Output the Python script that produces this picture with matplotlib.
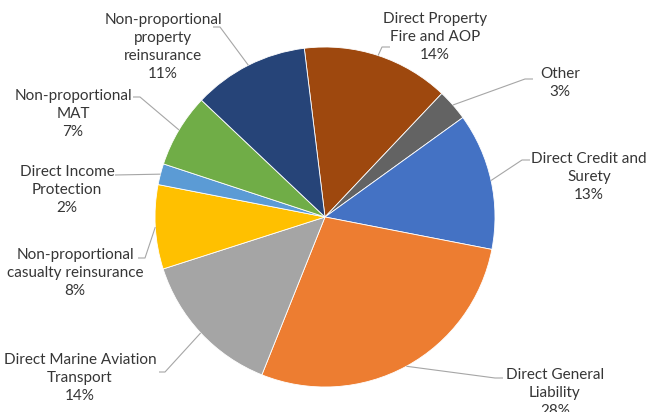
import numpy as np
import matplotlib
matplotlib.use("Agg")
import matplotlib.pyplot as plt

# premium split by line of business, clockwise from the top
lines = ["Direct Property\nFire and AOP", "Other", "Direct Credit and\nSurety",
         "Direct General\nLiability", "Direct Marine Aviation\nTransport",
         "Non-proportional\ncasualty reinsurance", "Direct Income\nProtection",
         "Non-proportional\nMAT", "Non-proportional\nproperty\nreinsurance"]
shares = [14, 3, 13, 28, 14, 8, 2, 7, 11]
colors = ["#9E480E", "#636363", "#4472C4", "#ED7D31", "#A5A5A5",
          "#FFC000", "#5B9BD5", "#70AD47", "#264478"]

W, H = 646, 412
cx, cy, r = 325, H - 217, 170
start = 97.0

# label block centre and where its leader line leaves the text (pixels from top-left)
label_pos = [(435, 37), (560, 83), (589, 177), (555, 393), (80, 378),
             (75, 273), (67, 190), (73, 114), (163, 47)]
leader_from = [(390, 47), (533, 79), (530, 160), (503, 378), (159, 372),
               (138, 258), (115, 175), (133, 97), (213, 27)]
stub = [-8, -8, -8, -8, 6, 7, 0, 7, 7]

plt.rcParams['font.family'] = ['Lato', 'DejaVu Sans']
fig = plt.figure(figsize=(W / 100, H / 100), dpi=100)
ax = fig.add_axes([0, 0, 1, 1])

wedges, _ = ax.pie(shares, colors=colors, startangle=start, counterclock=False,
                   center=(cx, cy), radius=r,
                   wedgeprops=dict(edgecolor="white", linewidth=0.6))

ax.set_aspect("auto")
ax.set_xlim(0, W)
ax.set_ylim(0, H)
ax.axis("off")

for w, name, val, (tx, ty), (lx, ly), s in zip(wedges, lines, shares,
                                               label_pos, leader_from, stub):
    mid = np.deg2rad((w.theta1 + w.theta2) / 2)
    ex, ey = cx + r * np.cos(mid), cy + r * np.sin(mid)
    ax.plot([lx, lx + s, ex], [H - ly, H - ly, ey], color="#A6A6A6", lw=0.8,
            solid_capstyle="butt")
    ax.text(tx, H - ty, f"{name}\n{val}%", ha="center", va="center",
            fontsize=11, color="#363636", linespacing=1.35)

fig.savefig("out.png", dpi=100)
